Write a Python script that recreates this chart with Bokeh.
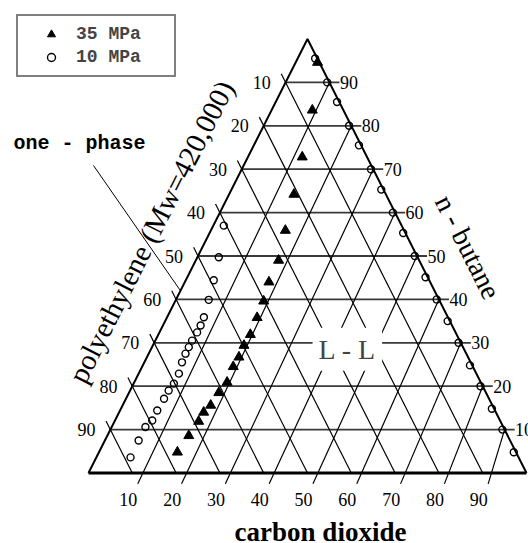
import numpy as np
from bokeh.plotting import figure
from bokeh.models import Range1d, Label, Legend, LegendItem
from bokeh.core.properties import value
from bokeh.embed import file_html
from bokeh.resources import INLINE

# ---------------- data (wt%) ----------------
tick_values = [10, 20, 30, 40, 50, 60, 70, 80, 90]
tick_labels = ["10", "20", "30", "40", "50", "60", "70", "80", "90"]

# 35 MPa cloud points (triangles)
p35_butane = [94.6, 83.6, 72.8, 64.2, 55.9, 49.0, 44.0, 39.6, 35.8, 31.9, 29.4,
              26.7, 24.5, 20.9, 18.5, 15.6, 14.0, 11.9, 8.6, 4.8]
p35_co2 = [5.0, 9.3, 12.4, 14.8, 17.0, 18.9, 19.2, 20.2, 20.6, 21.0, 20.8,
           21.0, 20.8, 21.2, 20.5, 20.1, 19.3, 19.2, 18.6, 17.9]

# 10 MPa points (open circles) - polymer-rich branch
p10a_butane = [57.0, 49.7, 44.4, 39.9, 35.9, 34.0, 32.4, 30.5, 29.0, 27.5,
               25.5, 22.9, 20.6, 19.0, 17.1, 14.4, 12.1, 10.6, 7.5, 3.6]
p10a_co2 = [2.4, 4.9, 6.4, 7.5, 8.4, 8.6, 8.6, 8.4, 8.4, 8.4,
            8.6, 9.2, 9.2, 8.8, 8.7, 8.5, 8.5, 7.7, 7.7, 7.8]
# 10 MPa points (open circles) - polymer-lean branch
p10b_butane = [95.5, 90.0, 85.5, 80.0, 75.5, 70.0, 65.3, 60.0, 55.3, 50.0,
               45.1, 40.0, 35.0, 30.0, 24.8, 20.0, 14.8, 10.0, 4.8]
p10b_co2 = [4.0, 9.5, 14.0, 19.5, 24.0, 29.5, 34.2, 39.5, 44.2, 49.5,
            54.4, 59.5, 64.5, 69.5, 74.7, 79.5, 84.7, 89.5, 94.7]


def tern(co2, butane):
    c = np.asarray(co2, float)
    b = np.asarray(butane, float)
    return c + b / 2.0, b


SERIF = value("Liberation Serif")
MONO = value("Liberation Mono")

p = figure(width=528, height=543, x_range=Range1d(-20.09, 100.46),
           y_range=Range1d(-16.24, 108.87), min_border=0,
           toolbar_location=None, output_backend="svg",
           x_axis_location=None, y_axis_location=None)
p.grid.visible = False
p.outline_line_color = None
p.background_fill_color = "white"

t = np.array(tick_values, float)
# horizontal lines (constant n-butane), extended past right edge as ticks
hx0, hy0 = tern(np.zeros_like(t), t)
hx1, hy1 = tern(100 - t, t)
p.segment(hx0, hy0, hx1 + 2.3, hy1, line_color="#3a3a3a", line_width=1.8)
# constant CO2 lines, extended below base as ticks
cx0, cy0 = tern(t + 2.5, -2.5 * np.ones_like(t))
cx1, cy1 = tern(t, 100 - t)
p.segment(cx0, cy0, cx1, cy1, line_color="black", line_width=1.2)
# constant polyethylene lines, extended past left edge as ticks
px0, py0 = tern(100 - t, np.zeros_like(t))
px1, py1 = tern(-2.0 * np.ones_like(t), 100 - t + 2.0)
p.segment(px0, py0, px1, py1, line_color="black", line_width=1.2)

# triangle edges
ex, ey = tern([0, 0, 100], [0, 100, 0])
p.line([ex[0], ex[1], ex[2]], [ey[0], ey[1], ey[2]], line_color="black", line_width=2)
p.line([ex[0], ex[2]], [ey[0], ey[2]], line_color="black", line_width=3)

# one-phase pointer
p.line([1.14, 21.0], [70.85, 42.0], line_color="black", line_width=1)

# L - L label with white box
p.add_layout(Label(x=59.1, y=28.5, text="L - L", text_font="Liberation Serif",
                   text_font_size="28px", text_align="center",
                   text_baseline="middle", background_fill_color="white",
                   padding=6))

# data points
x35, y35 = tern(p35_co2, p35_butane)
r35 = p.scatter(x35, y35, marker="triangle", size=10, fill_color="black",
                line_color="black")
xa, ya = tern(p10a_co2, p10a_butane)
r10 = p.scatter(xa, ya, marker="circle", size=7, fill_alpha=0,
                line_color="black", line_width=1.4)
xb, yb = tern(p10b_co2, p10b_butane)
p.scatter(xb, yb, marker="circle", size=7, fill_alpha=0,
          line_color="black", line_width=1.4)

# tick labels
bx, by = tern(t, np.zeros_like(t))
p.text(bx - 0.9, by - 6.0, text=tick_labels, text_font=SERIF,
       text_font_size="18px", text_align="center", text_baseline="middle")
lx, ly = tern(np.zeros_like(t), 100 - t)
p.text(lx - 3.4, ly, text=tick_labels, text_font=SERIF,
       text_font_size="18px", text_align="right", text_baseline="middle")
rx, ry = tern(100 - t, t)
p.text(rx + 2.4, ry, text=tick_labels, text_font=SERIF,
       text_font_size="18px", text_align="left", text_baseline="middle")

# axis titles
p.text([52.97], [-13.5], text=["carbon dioxide"], text_font=SERIF,
       text_font_size="27px", text_font_style="bold", text_align="center",
       text_baseline="middle")
p.text([86.64], [52.07], text=["n - butane"], text_font=SERIF,
       text_font_size="28px", text_align="center", text_baseline="middle",
       angle=-1.105)
p.text([14.3], [55.6], text=["polyethylene (Mw=420,000)"], text_font=SERIF,
       text_font_size="29px", text_align="center", text_baseline="middle",
       angle=1.105)
p.text([-17.12], [75.9], text=["one - phase"], text_font=MONO,
       text_font_size="20px", text_font_style="bold", text_align="left",
       text_baseline="middle")

legend = Legend(items=[LegendItem(label="35 MPa", renderers=[r35]),
                       LegendItem(label="10 MPa", renderers=[r10])],
                location=(16, 466), margin=0, padding=8, spacing=3,
                glyph_width=50, glyph_height=20, label_height=20,
                label_standoff=0, label_width=90,
                label_text_font="Liberation Mono", label_text_font_size="18px",
                label_text_font_style="bold",
                border_line_color="black", border_line_width=2,
                background_fill_color="white", background_fill_alpha=1)
p.add_layout(legend)

open("out.html", "w").write(file_html(p, INLINE))
